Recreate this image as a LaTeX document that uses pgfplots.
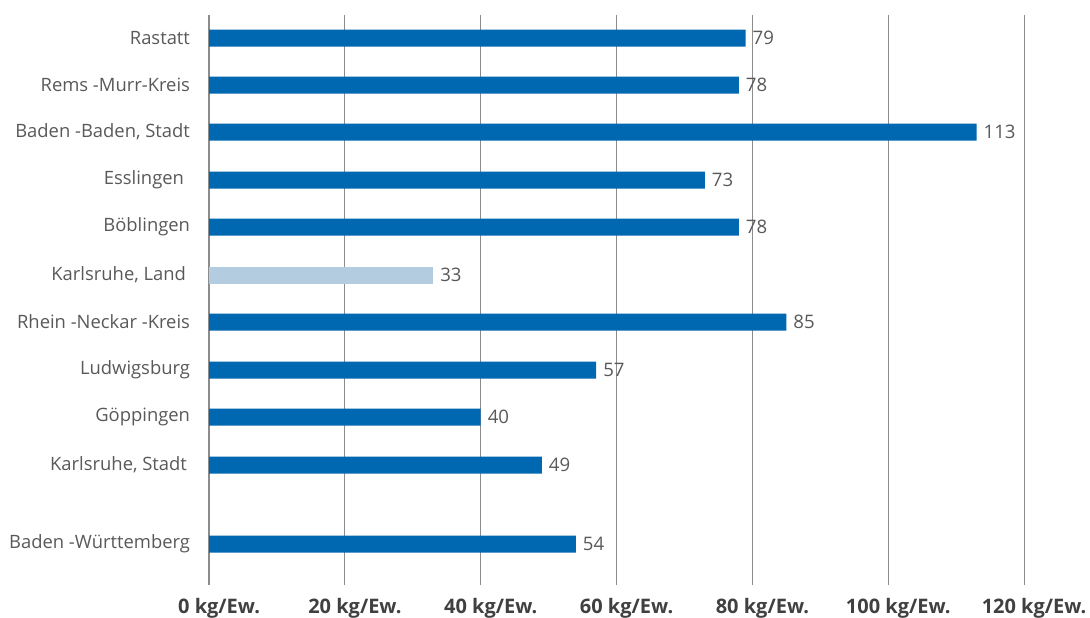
\documentclass[border=0pt]{standalone}
\usepackage{pgfplots}
\pgfplotsset{compat=1.18}
\usepackage{fontspec}
\setmainfont{Open Sans}
\definecolor{barblue}{HTML}{0067B1}
\definecolor{barlight}{HTML}{B3CCE0}
\definecolor{txtgray}{HTML}{595959}
\definecolor{tickgray}{HTML}{404040}
\definecolor{gridgray}{HTML}{8C8C8C}
\begin{document}
\begin{tikzpicture}
\begin{axis}[
  scale only axis,
  width=407.5pt, height=285pt,
  xmin=0, xmax=120, ymin=0, ymax=570,
  axis line style={draw=none},
  major tick length=0pt,
  xtick={0,20,40,60,80,100,120},
  xmajorgrids,
  grid style={gridgray, line width=0.6pt},
  xticklabel={\textbf{\pgfmathprintnumber{\tick}~kg/Ew.}},
  xticklabel style={font=\fontsize{10}{12}\selectfont, text=tickgray, yshift=-3pt, xshift=5pt},
  ytick={41,120,168,215,263,310,358,405,453,500,547},
  yticklabels={Baden -Württemberg, Karlsruhe{,} Stadt\kern1.5pt, Göppingen, Ludwigsburg, Rhein -Neckar -Kreis, Karlsruhe{,} Land\kern2pt, Böblingen, Esslingen\kern3pt, Baden -Baden{,} Stadt, Rems -Murr-Kreis, Rastatt},
  yticklabel style={font=\fontsize{9.2}{11}\selectfont, text=txtgray, xshift=-6pt},
  /pgf/number format/assume math mode=true,
  clip=false,
  point meta=x,
  nodes near coords,
  every node near coord/.append style={font=\fontsize{9.3}{11}\selectfont, text=txtgray, anchor=west},
]
\addplot[xbar, bar shift=0pt, bar width=17, fill=barblue, draw=none, point meta=x] coordinates {
(54,41) (49,120) (40,168) (57,215) (85,263) (78,358) (73,405) (113,453) (78,500) (79,547)
};
\addplot[xbar, bar shift=0pt, bar width=17, fill=barlight, draw=none, point meta=x] coordinates {
(33,310)
};
\coordinate (ll) at (axis cs:-30.78,-32);
\coordinate (ur) at (axis cs:129.7,585);
\end{axis}
\pgfresetboundingbox
\path[use as bounding box] (ll) rectangle (ur);
\end{tikzpicture}
\end{document}
